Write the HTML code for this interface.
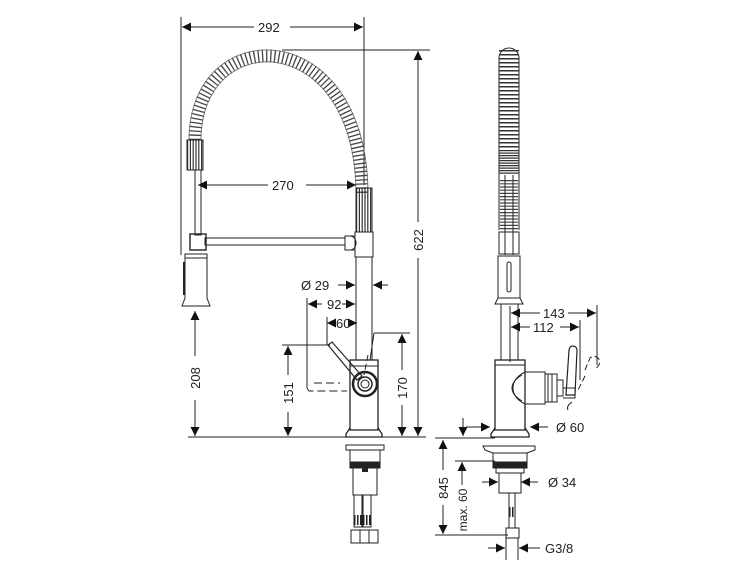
<!DOCTYPE html>
<html><head><meta charset="utf-8"><style>
html,body{margin:0;padding:0;background:#fff;}
svg{display:block;}
text{font-family:"Liberation Sans",sans-serif;font-size:13px;fill:#222;}
</style></head><body>
<svg width="750" height="563" viewBox="0 0 750 563" xmlns="http://www.w3.org/2000/svg">
<defs>
<marker id="a" viewBox="0 0 10 10" refX="10" refY="5" markerWidth="9" markerHeight="9" orient="auto-start-reverse" markerUnits="userSpaceOnUse"><path d="M0,0 L10,5 L0,10 z" fill="#111"/></marker>
</defs>
<g stroke="#222" stroke-width="1" fill="none">
<!-- 292 -->
<line x1="181" y1="17" x2="181" y2="255"/>
<line x1="364" y1="17" x2="364" y2="185"/>
<line x1="182" y1="27" x2="254" y2="27" marker-start="url(#a)"/>
<line x1="290" y1="27" x2="363" y2="27" marker-end="url(#a)"/>
<!-- 622 -->
<line x1="282" y1="50" x2="430" y2="50"/>
<line x1="418" y1="51" x2="418" y2="222" marker-start="url(#a)"/>
<line x1="418" y1="258" x2="418" y2="436" marker-end="url(#a)"/>
<!-- spring arch -->
<path d="M195,140 C195,20 362,20 362,195" stroke="#444" stroke-width="13" stroke-dasharray="1.3 2.8"/>
<path d="M189,140 C189,12 368,12 368,195" stroke="#666" stroke-width="0.8"/>
<path d="M201,140 C201,28 356,28 356,195" stroke="#666" stroke-width="0.8"/>
<!-- left tight coil -->
<line x1="187" y1="155" x2="203" y2="155" stroke="#333" stroke-width="30" stroke-dasharray="1.2 1.6"/>
<rect x="187" y="140" width="16" height="30"/>
<rect x="195" y="170" width="6" height="65"/>
<!-- 270 -->
<line x1="198" y1="185" x2="268" y2="185" marker-start="url(#a)"/>
<line x1="306" y1="185" x2="356" y2="185" marker-end="url(#a)"/>
<!-- right tight coil -->
<line x1="356" y1="210" x2="372" y2="210" stroke="#333" stroke-width="44" stroke-dasharray="1.2 1.6"/>
<rect x="356" y="188" width="16" height="44"/>
<!-- T junction & arm -->
<rect x="355" y="232" width="18" height="25"/>
<path d="M345,236 h10 v14 h-10 z"/>
<path d="M350,236 a6,7 0 0 1 0,14"/>
<rect x="205" y="238" width="140" height="7"/>
<rect x="190" y="234" width="16" height="16" stroke-width="1.4"/>
<!-- spray head -->
<rect x="185" y="254" width="22" height="4"/>
<path d="M185,258 h22 v40 l3,8 h-28 l3,-8 z"/>
<line x1="184" y1="262" x2="184" y2="295" stroke-width="2"/>
<!-- 208 -->
<line x1="195" y1="311" x2="195" y2="356" marker-start="url(#a)"/>
<line x1="195" y1="400" x2="195" y2="436" marker-end="url(#a)"/>
<!-- spout -->
<line x1="356" y1="257" x2="356" y2="360"/>
<line x1="372" y1="257" x2="372" y2="360"/>
<!-- Ø29 -->
<line x1="338" y1="285" x2="355" y2="285" marker-end="url(#a)"/>
<line x1="388" y1="285" x2="373" y2="285" marker-end="url(#a)"/>
<!-- 92 -->
<line x1="307" y1="298" x2="307" y2="388"/>
<line x1="308" y1="304" x2="322" y2="304" marker-start="url(#a)"/>
<line x1="342" y1="304" x2="355" y2="304" marker-end="url(#a)"/>
<!-- 60 -->
<line x1="327" y1="317" x2="327" y2="345"/>
<line x1="327" y1="323" x2="335" y2="323" marker-start="url(#a)"/>
<line x1="350" y1="323" x2="357" y2="323" marker-end="url(#a)"/>
<!-- dashed handle alt -->
<path d="M307,388 l2,3 h38" stroke-dasharray="8 4"/>
<path d="M314,383 h26" stroke-dasharray="8 4"/>
<path d="M368,355 l-4,20" stroke-dasharray="6 3"/>
<!-- 151 -->
<line x1="282" y1="345" x2="330" y2="345"/>
<line x1="288" y1="346" x2="288" y2="375" marker-start="url(#a)"/>
<line x1="288" y1="412" x2="288" y2="436" marker-end="url(#a)"/>
<!-- 170 -->
<line x1="374" y1="333" x2="410" y2="333"/>
<line x1="374" y1="333" x2="370" y2="360"/>
<line x1="402" y1="334" x2="402" y2="370" marker-start="url(#a)"/>
<line x1="402" y1="405" x2="402" y2="436" marker-end="url(#a)"/>
<!-- body -->
<rect x="350" y="360" width="28" height="70" stroke-width="1.3"/>
<line x1="350" y1="366" x2="378" y2="366"/>
<path d="M350,428 l-4,6 v3 h36 v-3 l-4,-6" stroke-width="1.3"/>
<circle cx="365" cy="384" r="12" stroke-width="2.5"/>
<circle cx="365" cy="384" r="7" stroke-width="1.5"/>
<circle cx="365" cy="384" r="4"/>
<path d="M328,345 l4,-3 l30,34 l-5,4 z" stroke-width="1.2"/>
<!-- baseline -->
<line x1="188" y1="437" x2="426" y2="437"/>
<!-- lower fittings left -->
<rect x="346" y="445" width="38" height="5"/>
<rect x="350" y="450" width="30" height="12"/>
<rect x="350" y="462" width="30" height="6" fill="#222"/>
<rect x="353" y="468" width="24" height="27"/>
<rect x="362" y="468" width="6" height="4" fill="#222" stroke="none"/>
<rect x="354" y="495" width="8" height="32"/>
<rect x="363" y="495" width="8" height="32"/>
<line x1="354" y1="520" x2="371" y2="520" stroke="#222" stroke-width="10" stroke-dasharray="1.5 1.5"/>
<rect x="351" y="530" width="27" height="13"/>
<line x1="360" y1="530" x2="360" y2="543"/><line x1="369" y1="530" x2="369" y2="543"/>

<!-- RIGHT VIEW -->
<path d="M499,230 V58 a10,10 0 0 1 20,0 V230"/>
<line x1="509" y1="50" x2="509" y2="150" stroke="#333" stroke-width="20" stroke-dasharray="1.5 2.5"/>
<line x1="509" y1="150" x2="509" y2="175" stroke="#333" stroke-width="20" stroke-dasharray="1.2 1.3"/>
<line x1="509" y1="180" x2="509" y2="230" stroke="#444" stroke-width="18" stroke-dasharray="1.2 2"/>
<line x1="505" y1="175" x2="505" y2="255"/><line x1="513" y1="175" x2="513" y2="255"/>
<rect x="499" y="232" width="20" height="22"/>
<rect x="498" y="256" width="22" height="42"/>
<rect x="507" y="262" width="4" height="30" rx="2"/>
<path d="M498,298 l-3,6 h28 l-3,-6"/>
<line x1="501" y1="304" x2="501" y2="360"/><line x1="518" y1="304" x2="518" y2="360"/>
<!-- 143/112 -->
<line x1="510" y1="306" x2="510" y2="362"/>
<line x1="511" y1="313" x2="540" y2="313" marker-start="url(#a)"/>
<line x1="568" y1="313" x2="596" y2="313" marker-end="url(#a)"/>
<line x1="597" y1="305" x2="597" y2="365"/>
<line x1="511" y1="327" x2="530" y2="327" marker-start="url(#a)"/>
<line x1="560" y1="327" x2="579" y2="327" marker-end="url(#a)"/>
<line x1="580" y1="320" x2="580" y2="380"/>
<!-- body right -->
<rect x="495" y="360" width="30" height="70" stroke-width="1.3"/>
<line x1="495" y1="365" x2="525" y2="365"/>
<path d="M495,428 l-4,6 v3 h38 v-3 l-4,-6" stroke-width="1.3"/>
<path d="M525,372 h20 v32 h-20"/>
<path d="M525,372 q-12,6 -12,16 q0,10 12,16"/>
<path d="M522,375 q-10,6 -10,13 q0,7 10,13"/>
<rect x="545" y="374" width="12" height="28"/>
<line x1="548" y1="374" x2="548" y2="402"/><line x1="552" y1="374" x2="552" y2="402"/>
<rect x="557" y="380" width="6" height="16"/>
<path d="M566,395 l3,-45 a4,4 0 0 1 8,0 l-2,45 z" stroke-width="1.2"/>
<path d="M563,388 h12 v10 h-12" />
<path d="M572,402 q-6,4 -4,8" />
<path d="M585,370 l5,-12 a5,5 0 0 1 8,8 l-3,4" stroke-dasharray="6 3"/>
<path d="M585,376 l-8,16" stroke-dasharray="6 3"/>
<!-- Ø60 -->
<line x1="466" y1="427" x2="490" y2="427" marker-end="url(#a)"/>
<line x1="548" y1="427" x2="530" y2="427" marker-end="url(#a)"/>
<line x1="463" y1="418" x2="463" y2="436" marker-end="url(#a)"/>
<!-- 845 ext -->
<line x1="435" y1="438" x2="495" y2="438"/>
<line x1="443" y1="440" x2="443" y2="470" marker-start="url(#a)"/>
<line x1="443" y1="505" x2="443" y2="534" marker-end="url(#a)"/>
<line x1="435" y1="535" x2="508" y2="535"/>
<line x1="455" y1="461" x2="495" y2="461"/>
<line x1="462" y1="462" x2="462" y2="485" marker-start="url(#a)"/>
<!-- lower fittings right -->
<path d="M483,446 h52 v4 l-8,3 h-34 l-8,-3 z"/>
<rect x="493" y="453" width="34" height="9"/>
<rect x="493" y="462" width="34" height="6" fill="#222"/>
<rect x="496" y="468" width="28" height="5"/>
<rect x="499" y="473" width="22" height="20"/>
<rect x="509" y="493" width="6" height="35"/>
<line x1="509" y1="512" x2="515" y2="512" stroke="#222" stroke-width="10" stroke-dasharray="1.5 1.5"/>
<rect x="506" y="528" width="13" height="10"/>
<line x1="506" y1="538" x2="506" y2="560"/><line x1="518" y1="538" x2="518" y2="560"/>
<!-- Ø34 -->
<line x1="482" y1="482" x2="498" y2="482" marker-end="url(#a)"/>
<line x1="538" y1="482" x2="521" y2="482" marker-end="url(#a)"/>
<!-- G3/8 -->
<line x1="488" y1="548" x2="505" y2="548" marker-end="url(#a)"/>
<line x1="540" y1="548" x2="519" y2="548" marker-end="url(#a)"/>
</g>
<g>
<text x="258" y="32">292</text>
<text x="272" y="190">270</text>
<text x="301" y="290">Ø 29</text>
<text x="327" y="309">92</text>
<text x="336" y="328">60</text>
<text transform="translate(200,378) rotate(-90)" text-anchor="middle">208</text>
<text transform="translate(293,393) rotate(-90)" text-anchor="middle">151</text>
<text transform="translate(407,388) rotate(-90)" text-anchor="middle">170</text>
<text transform="translate(423,240) rotate(-90)" text-anchor="middle">622</text>
<text x="543" y="318">143</text>
<text x="533" y="332">112</text>
<text x="556" y="432">Ø 60</text>
<text x="548" y="487">Ø 34</text>
<text x="545" y="553">G3/8</text>
<text transform="translate(448,488) rotate(-90)" text-anchor="middle">845</text>
<text transform="translate(467,510) rotate(-90)" text-anchor="middle" style="font-size:12px">max. 60</text>
</g>
</svg>
</body></html>
